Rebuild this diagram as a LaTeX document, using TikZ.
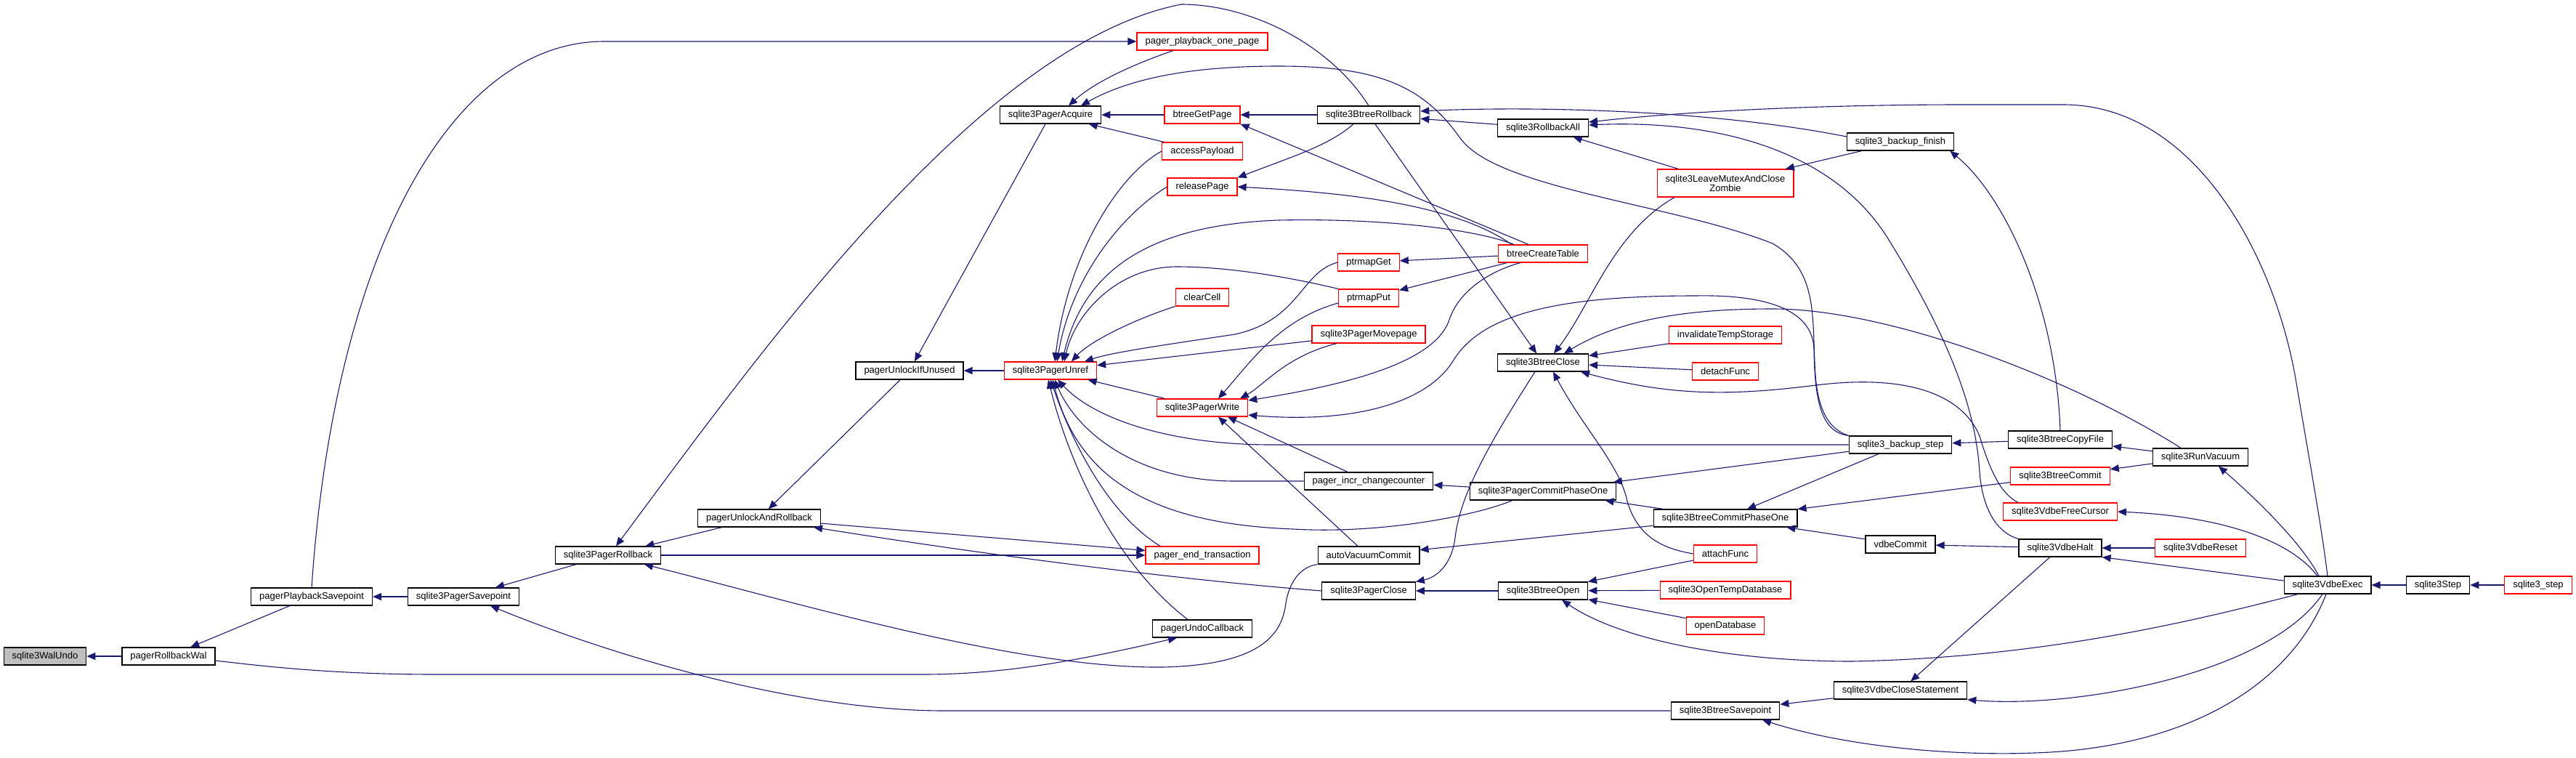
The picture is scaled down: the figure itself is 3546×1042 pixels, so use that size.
\documentclass[tikz,border=0pt]{standalone}
\usepackage{fontspec}
\setmainfont{Liberation Sans}
\usetikzlibrary{arrows.meta}
\definecolor{edgecol}{RGB}{25,25,112}
\definecolor{nodegray}{RGB}{191,191,191}
\begin{document}
\begin{tikzpicture}[x=1pt,y=-1pt,
  nb/.style={draw=black, fill=white, line width=1.2pt, rectangle, minimum height=24pt, inner xsep=11.5pt, inner ysep=0pt, font=\fontsize{13}{13}\selectfont},
  nr/.style={nb, draw=red},
  edg/.style={draw=edgecol, line width=1.1pt, arrows={Triangle[length=12pt,width=10pt]-}}
]
\useasboundingbox[fill=white] (0,0) rectangle (3546,1042);
% nodes
\node[nb,fill=nodegray] (walundo) at (62,903) {sqlite3WalUndo};
\node[nb] (rbwal) at (232,903) {pagerRollbackWal};
\node[nb] (playsp) at (429,821) {pagerPlaybackSavepoint};
\node[nb] (pagersp) at (638,821) {sqlite3PagerSavepoint};
\node[nb] (pagerrb) at (837,764) {sqlite3PagerRollback};
\node[nb] (unlockrb) at (1045,713) {pagerUnlockAndRollback};
\node[nb] (unlockifun) at (1252,510) {pagerUnlockIfUnused};
\node[nb] (acquire) at (1446,158) {sqlite3PagerAcquire};
\node[nr] (unref) at (1446,510) {sqlite3PagerUnref};
\node[nr] (playone) at (1655,57) {pager\_playback\_one\_page};
\node[nr] (getpage) at (1655,158) {btreeGetPage};
\node[nr] (access) at (1655,208) {accessPayload};
\node[nr] (release) at (1655,257) {releasePage};
\node[nr] (clearcell) at (1655,409) {clearCell};
\node[nr] (pwrite) at (1655,561) {sqlite3PagerWrite};
\node[nr] (endtx) at (1655,764) {pager\_end\_transaction};
\node[nb] (undocb) at (1655,865) {pagerUndoCallback};
\node[nb] (btrb) at (1884,158) {sqlite3BtreeRollback};
\node[nr] (ptrget) at (1884,361) {ptrmapGet};
\node[nr] (ptrput) at (1884,410) {ptrmapPut};
\node[nr] (movepage) at (1884,460) {sqlite3PagerMovepage};
\node[nb] (incrcc) at (1884,662) {pager\_incr\_changecounter};
\node[nb] (autovac) at (1884,764) {autoVacuumCommit};
\node[nb] (pclose) at (1884,813) {sqlite3PagerClose};
\node[nb] (rball) at (2124,176) {sqlite3RollbackAll};
\node[nr] (createtbl) at (2124,349) {btreeCreateTable};
\node[nb] (btclose) at (2124,499) {sqlite3BtreeClose};
\node[nb] (pcommit1) at (2124,676) {sqlite3PagerCommitPhaseOne};
\node[nb] (btopen) at (2124,813) {sqlite3BtreeOpen};
\node[nr, align=center, minimum height=38pt] (zombie) at (2375,252) {sqlite3LeaveMutexAndClose\\Zombie};
\node[nr] (invtemp) at (2375,461) {invalidateTempStorage};
\node[nr] (detach) at (2375,511) {detachFunc};
\node[nb] (btcommit1) at (2375,713) {sqlite3BtreeCommitPhaseOne};
\node[nr] (attach) at (2375,762) {attachFunc};
\node[nr] (opentemp) at (2375,812) {sqlite3OpenTempDatabase};
\node[nr] (opendb) at (2375,861) {openDatabase};
\node[nb] (btsp) at (2375,978) {sqlite3BtreeSavepoint};
\node[nb] (bkfinish) at (2616,195) {sqlite3\_backup\_finish};
\node[nb] (bkstep) at (2616,612) {sqlite3\_backup\_step};
\node[nb] (vdbecommit) at (2616,749) {vdbeCommit};
\node[nb] (closestmt) at (2616,950) {sqlite3VdbeCloseStatement};
\node[nb] (copyfile) at (2836,605) {sqlite3BtreeCopyFile};
\node[nr] (btcommit) at (2836,655) {sqlite3BtreeCommit};
\node[nr] (freecursor) at (2836,704) {sqlite3VdbeFreeCursor};
\node[nb] (halt) at (2836,754) {sqlite3VdbeHalt};
\node[nb] (vacuum) at (3029,629) {sqlite3RunVacuum};
\node[nr] (reset) at (3029,754) {sqlite3VdbeReset};
\node[nb] (exec) at (3204,805) {sqlite3VdbeExec};
\node[nb] (step) at (3356,805) {sqlite3Step};
\node[nr] (step2) at (3494,805) {sqlite3\_step};
% edges (arrow tip at the first node)
\draw[edg] (walundo) -- (rbwal);
\draw[edg] (rbwal) -- (playsp);
\draw[edg] (playone.west) -- (832,57) .. controls (620,57) and (460,350) .. (playsp.north);
\draw[edg] (playsp) -- (pagersp);
\draw[edg] (pagersp) -- (pagerrb);
\draw[edg] ([xshift=37pt]pagersp.south) .. controls (850,905) and (1100,978) .. (1300,978) -- (btsp.west);
\draw[edg] (pagerrb) -- (unlockrb);
\draw[edg] (endtx) -- (pagerrb);
\draw[edg] (endtx) -- (unlockrb);
\draw[edg] ([xshift=50pt]pagerrb.south) .. controls (1100,830) and (1400,920) .. (1600,918) .. controls (1740,915) and (1765,870) .. (1770,830) .. controls (1775,800) and (1790,780) .. (autovac.south west);
\draw[edg] ([xshift=11pt]pagerrb.north) .. controls (1050,480) and (1350,60) .. (1626,6) .. controls (1720,6) and (1830,60) .. (btrb.north);
\draw[edg] (unlockrb) -- (unlockifun);
\draw[edg] (unlockifun) -- (acquire);
\draw[edg] (unlockifun) -- (unref);
\draw[edg] ([xshift=25pt]acquire.north) .. controls (1510,110) and (1570,85) .. ([xshift=-40pt]playone.south);
\draw[edg] ([xshift=42pt]acquire.north) .. controls (1560,105) and (1650,91) .. (1760,91) .. controls (1900,91) and (1960,120) .. (2010,190) .. controls (2060,260) and (2300,280) .. (2440,335) .. controls (2500,370) and (2495,430) .. (2498,500) .. controls (2500,560) and (2515,590) .. (bkstep.north west);
\draw[edg] (acquire) -- (getpage);
\draw[edg] (acquire) -- (access);
\draw[edg] (getpage) -- (btrb);
\draw[edg] (getpage.south east) -- ([xshift=-20pt]createtbl.north);
\draw[edg] (release.north east) .. controls (1780,215) and (1830,200) .. ([xshift=-21pt]btrb.south);
\draw[edg] (release.east) .. controls (1850,265) and (2000,280) .. ([xshift=-43pt]createtbl.north);
\draw[edg] ([xshift=16pt]unref.north) .. controls (1490,380) and (1570,310) .. (1760,303) .. controls (1900,300) and (2030,315) .. ([xshift=-40pt]createtbl.north);
\draw[edg] ([xshift=6pt]unref.north) .. controls (1470,350) and (1540,240) .. (access.west);
\draw[edg] ([xshift=9pt]unref.north) .. controls (1475,380) and (1545,295) .. (release.west);
\draw[edg] ([xshift=19pt]unref.north) .. controls (1480,430) and (1540,367) .. (1620,367) .. controls (1700,367) and (1790,385) .. (ptrput.north west);
\draw[edg] ([xshift=29pt]unref.north) .. controls (1500,470) and (1560,440) .. (clearcell.south west);
\draw[edg] ([xshift=47pt]unref.north) .. controls (1530,485) and (1600,475) .. (1700,460) .. controls (1790,440) and (1790,375) .. (ptrget.west);
\draw[edg] (unref) -- (movepage);
\draw[edg] (unref) -- (pwrite);
\draw[edg] ([xshift=22pt]pwrite.north) .. controls (1720,500) and (1760,440) .. ([yshift=-7pt]ptrput.west);
\draw[edg] ([xshift=52pt]pwrite.north) .. controls (1740,530) and (1770,490) .. ([xshift=-44pt]movepage.south);
\draw[edg] ([yshift=10pt]pwrite.east) .. controls (1850,530) and (1975,500) .. (1995,440) .. controls (2010,395) and (2060,370) .. ([xshift=-31pt]createtbl.south);
\draw[edg] ([yshift=-10pt]pwrite.east) .. controls (1850,582) and (1960,560) .. (2000,497) .. controls (2040,430) and (2150,407) .. (2334,407) .. controls (2440,405) and (2495,430) .. (2497,480) .. controls (2498,560) and (2510,595) .. (bkstep.north west);
\draw[edg] ([xshift=22pt]pwrite.south) -- ([xshift=-15pt]autovac.north);
\draw[edg] ([xshift=35pt]pwrite.south) -- ([xshift=-29pt]incrcc.north);
\draw[edg] ([xshift=10pt]unref.south) .. controls (1510,580) and (1620,612) .. (1750,612) -- (bkstep.west);
\draw[edg] ([xshift=6pt]unref.south) .. controls (1480,590) and (1560,662) .. (1700,662) -- (incrcc.west);
\draw[edg] ([xshift=3pt]unref.south) .. controls (1480,640) and (1560,720) .. (1780,728) .. controls (1900,735) and (2030,710) .. ([xshift=-42pt]pcommit1.south);
\draw[edg] (unref.south) .. controls (1480,620) and (1530,710) .. ([xshift=-58pt]endtx.north);
\draw[edg] ([xshift=-3pt]unref.south) .. controls (1475,650) and (1540,780) .. ([xshift=-20pt]undocb.north);
\draw[edg] ([xshift=-35pt]undocb.south) .. controls (1480,910) and (1380,928) .. (1270,928) -- (600,928) .. controls (450,928) and (350,915) .. ([yshift=-6pt]rbwal.east);
\draw[edg] ([xshift=-10pt]unlockrb.south east) .. controls (1400,770) and (1650,800) .. (pclose.west);
\draw[edg] (pclose) -- (btopen);
\draw[edg] (pclose.north east) .. controls (1975,795) and (1998,780) .. (2003,740) .. controls (2010,680) and (2050,610) .. ([xshift=-11pt]btclose.south);
\draw[edg] (btclose) -- (btrb);
\draw[edg] ([xshift=15pt]btclose.north) .. controls (2190,420) and (2220,320) .. ([xshift=-70pt]zombie.south);
\draw[edg] ([xshift=29pt]btclose.north) .. controls (2230,440) and (2320,425) .. (2440,425) .. controls (2600,425) and (2850,520) .. ([xshift=-27pt]vacuum.north);
\draw[edg] (btclose) -- (invtemp);
\draw[edg] (btclose) -- (detach);
\draw[edg] ([xshift=52pt]btclose.south) .. controls (2300,545) and (2380,545) .. (2500,530) .. controls (2620,515) and (2700,540) .. (2725,600) .. controls (2740,650) and (2755,680) .. ([xshift=-58pt]freecursor.north);
\draw[edg] ([xshift=14pt]btclose.south) .. controls (2180,590) and (2230,640) .. (2240,690) .. controls (2255,740) and (2290,755) .. (attach.west);
\draw[edg] (btopen) -- (attach);
\draw[edg] (btopen) -- (opentemp);
\draw[edg] (btopen) -- (opendb);
\draw[edg] ([xshift=26pt]btopen.south) .. controls (2230,880) and (2380,910) .. (2550,910) .. controls (2800,905) and (3000,860) .. ([xshift=-41pt]exec.south);
\draw[edg] (btcommit1) -- (bkstep);
\draw[edg] (btcommit1) -- (btcommit);
\draw[edg] (btcommit1) -- (vdbecommit);
\draw[edg] (autovac) -- (btcommit1);
\draw[edg] (pcommit1) -- (btcommit1);
\draw[edg] (pcommit1) -- (bkstep);
\draw[edg] (incrcc) -- (pcommit1);
\draw[edg] (zombie) -- (bkfinish);
\draw[edg] (rball) -- (zombie);
\draw[edg] (btrb) -- (rball);
\draw[edg] ([yshift=5pt]btrb.east) .. controls (2100,146) and (2350,150) .. ([yshift=7pt]bkfinish.west);
\draw[edg] ([yshift=8pt]rball.east) .. controls (2350,150) and (2550,144) .. (2700,144) -- (2840,144) .. controls (3020,144) and (3130,350) .. (3160,521) .. controls (3180,640) and (3195,720) .. (exec.north);
\draw[edg] ([yshift=4pt]rball.east) .. controls (2350,165) and (2520,200) .. (2600,330) .. controls (2680,460) and (2720,560) .. (2725,650) .. controls (2730,710) and (2755,735) .. (halt.north west);
\draw[edg] ([xshift=-6pt]bkfinish.south east) .. controls (2760,270) and (2830,420) .. (copyfile.north);
\draw[edg] (bkstep) -- (copyfile);
\draw[edg] (copyfile) -- (vacuum);
\draw[edg] (btcommit) -- (vacuum);
\draw[edg] ([xshift=25pt]vacuum.south) .. controls (3110,690) and (3170,750) .. ([xshift=-12pt]exec.north);
\draw[edg] (freecursor.east) .. controls (3050,710) and (3150,740) .. ([xshift=-14pt]exec.north);
\draw[edg] (halt) -- (reset);
\draw[edg] (halt.south east) -- ([yshift=6pt]exec.west);
\draw[edg] (exec) -- (step);
\draw[edg] (step) -- (step2);
\draw[edg] (vdbecommit) -- (halt);
\draw[edg] (closestmt) -- (halt);
\draw[edg] (closestmt.south east) .. controls (2850,975) and (3120,930) .. ([xshift=-7pt]exec.south);
\draw[edg] (btsp) -- (closestmt);
\draw[edg] ([xshift=51pt]btsp.south) .. controls (2550,1030) and (2700,1040) .. (2800,1036) .. controls (3000,1030) and (3150,950) .. ([xshift=-2pt]exec.south);
\draw[edg] (ptrget) -- (createtbl);
\draw[edg] (ptrput) -- (createtbl);
\end{tikzpicture}
\end{document}
